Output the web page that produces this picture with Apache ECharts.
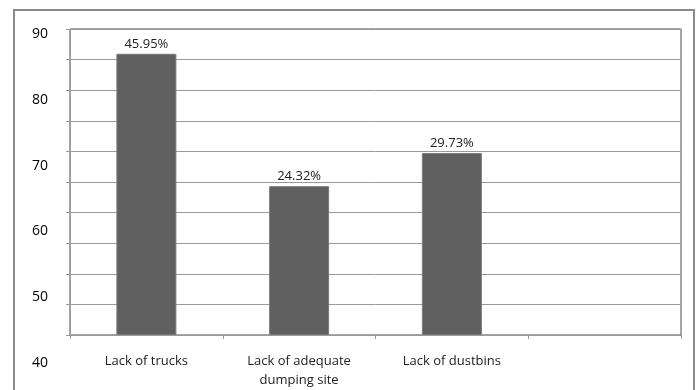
<!DOCTYPE html>
<html>
<head>
<meta charset="utf-8">
<script src="https://cdn.jsdelivr.net/npm/echarts@6/dist/echarts.min.js"></script>
<style>
  html, body { margin: 0; padding: 0; background: #fff; }
  #chart { width: 700px; height: 390px; }
</style>
</head>
<body>
<div id="chart"></div>
<script>
// categories (the last slot is empty in the original)
const categories = ["Lack of trucks", "Lack of adequate\ndumping site", "Lack of dustbins", ""];
// share of respondents, in percent
const percentValues = [45.95, 24.32, 29.73, null];
// stray labels printed down the left edge of the original picture
const sideLabels = [40, 50, 60, 70, 80, 90];

const font = "Open Sans";

const myChart = echarts.init(document.getElementById("chart"));

myChart.setOption({
  animation: false,
  textStyle: { fontFamily: font },
  graphic: [
    {
      type: "rect",
      shape: { x: 14, y: 10, width: 680, height: 400 },
      style: { fill: "none", stroke: "#8a8a8a", lineWidth: 2 },
      silent: true,
    },
  ],
  grid: [
    {
      left: 70,
      right: 19,
      top: 29,
      bottom: 53,
      show: true,
      borderColor: "#4a4a4a",
      borderWidth: 1,
    },
    {
      left: 53,
      width: 1,
      top: 34,
      bottom: 27,
    },
  ],
  xAxis: [
    {
      type: "category",
      data: categories,
      gridIndex: 0,
      axisLine: { lineStyle: { color: "#9a9a9a", width: 1 } },
      axisTick: { show: true, length: 4, lineStyle: { color: "#9a9a9a" } },
      axisLabel: {
        color: "#222",
        fontSize: 13,
        margin: 17,
        lineHeight: 19,
        interval: 0,
      },
    },
    {
      type: "value",
      gridIndex: 1,
      show: false,
    },
  ],
  yAxis: [
    {
      type: "value",
      gridIndex: 0,
      min: 0,
      max: 50,
      interval: 5,
      axisLine: { show: true, lineStyle: { color: "#9a9a9a", width: 1 } },
      axisTick: { show: true, length: 4, lineStyle: { color: "#9a9a9a" } },
      axisLabel: { show: false },
      splitLine: { lineStyle: { color: "#9a9a9a", width: 1 } },
    },
    {
      type: "value",
      gridIndex: 1,
      min: sideLabels[0],
      max: sideLabels[sideLabels.length - 1],
      interval: 10,
      axisLine: { show: false },
      axisTick: { show: false },
      splitLine: { show: false },
      axisLabel: { color: "#000", fontSize: 14, margin: 5 },
    },
  ],
  series: [
    {
      type: "bar",
      xAxisIndex: 0,
      yAxisIndex: 0,
      data: percentValues,
      barWidth: 60,
      itemStyle: { color: "#606060", borderColor: "#7a7a7a", borderWidth: 1 },
      label: {
        show: true,
        position: "top",
        distance: 3,
        color: "#222",
        fontSize: 13,
        formatter: (p) => p.value.toFixed(2) + "%",
      },
    },
  ],
});
</script>
</body>
</html>
